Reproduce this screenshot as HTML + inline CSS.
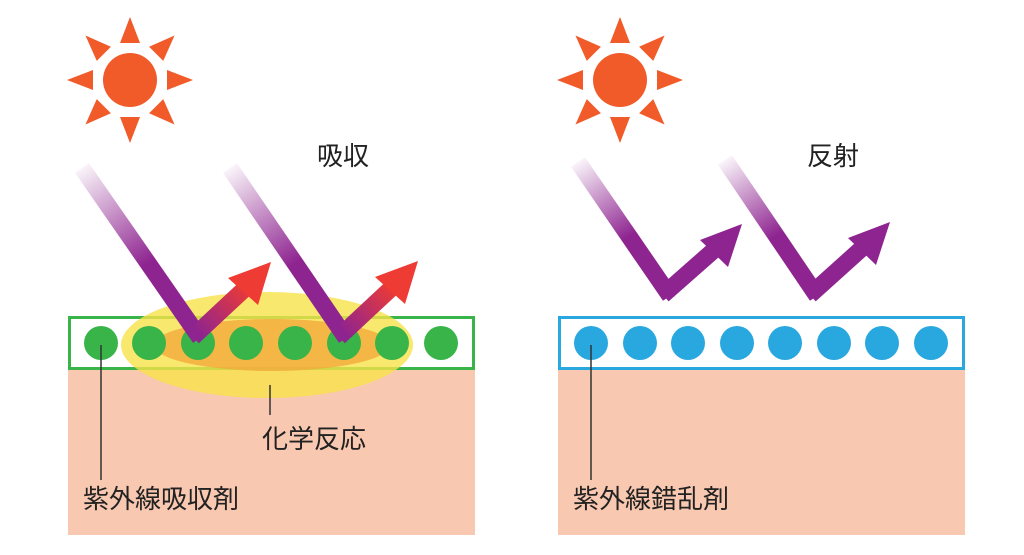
<!DOCTYPE html>
<html><head><meta charset="utf-8"><style>
body{margin:0;background:#fff;}
svg{display:block}
text{font-family:"Liberation Sans","Noto Sans CJK JP",sans-serif;fill:#222;}
</style></head><body>
<svg width="1024" height="555" viewBox="0 0 1024 555">
<defs>
<linearGradient id="g1" gradientUnits="userSpaceOnUse" x1="82" y1="168" x2="198" y2="344"><stop offset="0" stop-color="#8e2490" stop-opacity="0.05"/><stop offset="0.55" stop-color="#8e2490"/><stop offset="1" stop-color="#8e2490"/></linearGradient>
<linearGradient id="g2" gradientUnits="userSpaceOnUse" x1="230" y1="168" x2="344" y2="344"><stop offset="0" stop-color="#8e2490" stop-opacity="0.05"/><stop offset="0.55" stop-color="#8e2490"/><stop offset="1" stop-color="#8e2490"/></linearGradient>
<linearGradient id="g3" gradientUnits="userSpaceOnUse" x1="578" y1="162" x2="668" y2="300"><stop offset="0" stop-color="#8e2490" stop-opacity="0.05"/><stop offset="0.55" stop-color="#8e2490"/><stop offset="1" stop-color="#8e2490"/></linearGradient>
<linearGradient id="g4" gradientUnits="userSpaceOnUse" x1="725" y1="160" x2="815" y2="300"><stop offset="0" stop-color="#8e2490" stop-opacity="0.05"/><stop offset="0.55" stop-color="#8e2490"/><stop offset="1" stop-color="#8e2490"/></linearGradient>
<linearGradient id="r1" gradientUnits="userSpaceOnUse" x1="200" y1="335" x2="260" y2="275"><stop offset="0" stop-color="#8e2490"/><stop offset="0.8" stop-color="#ee3b34"/></linearGradient>
<linearGradient id="r2" gradientUnits="userSpaceOnUse" x1="346" y1="335" x2="406" y2="275"><stop offset="0" stop-color="#8e2490"/><stop offset="0.8" stop-color="#ee3b34"/></linearGradient>
<g id="sun">
<circle r="27" fill="#f15a29"/>
<g fill="#f15a29">
<polygon points="-10,-37 10,-37 0,-63"/>
<polygon points="-10,-37 10,-37 0,-63" transform="rotate(45)"/>
<polygon points="-10,-37 10,-37 0,-63" transform="rotate(90)"/>
<polygon points="-10,-37 10,-37 0,-63" transform="rotate(135)"/>
<polygon points="-10,-37 10,-37 0,-63" transform="rotate(180)"/>
<polygon points="-10,-37 10,-37 0,-63" transform="rotate(225)"/>
<polygon points="-10,-37 10,-37 0,-63" transform="rotate(270)"/>
<polygon points="-10,-37 10,-37 0,-63" transform="rotate(315)"/>
</g></g>
</defs>
<use href="#sun" x="130" y="80"/>
<use href="#sun" x="620" y="80"/>
<rect x="68" y="369" width="407" height="166" fill="#f9c8b0"/>
<rect x="558" y="369" width="407" height="166" fill="#f9c8b0"/>
<rect x="69.5" y="317.5" width="404" height="51" fill="#fff" stroke="#38b449" stroke-width="3"/>
<rect x="559.5" y="317.5" width="404" height="51" fill="#fff" stroke="#29a8e0" stroke-width="3"/>
<ellipse cx="267" cy="345" rx="146" ry="53" fill="#f7e24a" opacity="0.8"/>
<ellipse cx="272" cy="345" rx="118" ry="26" fill="#f2a93b" opacity="0.8"/>
<g fill="#38b449">
<circle cx="101" cy="343" r="17"/><circle cx="149" cy="343" r="17"/><circle cx="198" cy="343" r="17"/><circle cx="246" cy="343" r="17"/><circle cx="295" cy="343" r="17"/><circle cx="344" cy="343" r="17"/><circle cx="392" cy="343" r="17"/><circle cx="441" cy="343" r="17"/>
</g>
<g fill="#29a8e0">
<circle cx="591" cy="343" r="17"/><circle cx="640" cy="343" r="17"/><circle cx="688" cy="343" r="17"/><circle cx="737" cy="343" r="17"/><circle cx="785" cy="343" r="17"/><circle cx="834" cy="343" r="17"/><circle cx="882" cy="343" r="17"/><circle cx="931" cy="343" r="17"/>
</g>
<g fill="none" stroke-width="17" stroke-linejoin="miter">
<line x1="82" y1="168" x2="200" y2="338" stroke="url(#g1)"/>
<line x1="193" y1="337" x2="252" y2="282" stroke="url(#r1)"/>
<line x1="230" y1="168" x2="346" y2="338" stroke="url(#g2)"/>
<line x1="339" y1="337" x2="398" y2="282" stroke="url(#r2)"/>
<line x1="578" y1="162" x2="670" y2="296" stroke="url(#g3)"/>
<line x1="663" y1="295" x2="722" y2="243" stroke="#8e2490"/>
<line x1="725" y1="160" x2="817" y2="296" stroke="url(#g4)"/>
<line x1="810" y1="295" x2="870" y2="241" stroke="#8e2490"/>
</g>
<polygon points="271,262 228,278 258,305" fill="#ee3b34"/>
<polygon points="418,261 375,277 405,304" fill="#ee3b34"/>
<polygon points="742,224 700,240 728,267" fill="#8e2490"/>
<polygon points="890,222 848,238 876,265" fill="#8e2490"/>
<g stroke="#333" stroke-width="1.5">
<line x1="101" y1="345" x2="101" y2="480"/>
<line x1="270" y1="385" x2="270" y2="415"/>
<line x1="591" y1="345" x2="591" y2="480"/>
</g>
<g font-size="26">
<text x="317" y="165">吸収</text>
<text x="807" y="165">反射</text>
<text x="262" y="448">化学反応</text>
<text x="83" y="508">紫外線吸収剤</text>
<text x="573" y="508">紫外線錯乱剤</text>
</g>
</svg>
</body></html>
